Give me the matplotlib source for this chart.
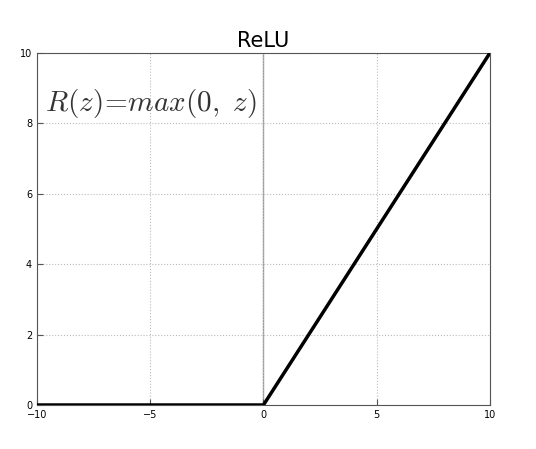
import numpy as np
import matplotlib
matplotlib.use("Agg")
import matplotlib.pyplot as plt

plt.rcParams['mathtext.fontset'] = 'cm'

# ReLU curve: x from -10 to 10
z = np.array([-10, 0, 10])
relu = np.array([0, 0, 10])
xticks = [-10, -5, 0, 5, 10]
yticks = [0, 2, 4, 6, 8, 10]

fig = plt.figure(figsize=(5.36, 4.49), dpi=100)
ax = fig.add_axes([0.069, 0.098, 0.845, 0.784])

ax.plot(z, relu, color='black', linewidth=2.5, zorder=3)
ax.axvline(0, color='#999999', linewidth=1, zorder=1)

ax.set_xlim(-10, 10)
ax.set_ylim(0, 10)
ax.set_xticks(xticks)
ax.set_yticks(yticks)
ax.grid(True, color='#bbbbbb', linestyle=':', linewidth=0.8)
ax.tick_params(direction='in', labelsize=7, length=4, color='#555555')
for s in ax.spines.values():
    s.set_color('#555555')

ax.set_title('ReLU', fontsize=15, pad=4)
ax.text(-9.65, 8.35, r'$R(z)\!=\!max(0,\ z)$', fontsize=21, color='#333333')

fig.savefig('out.png', dpi=100)
